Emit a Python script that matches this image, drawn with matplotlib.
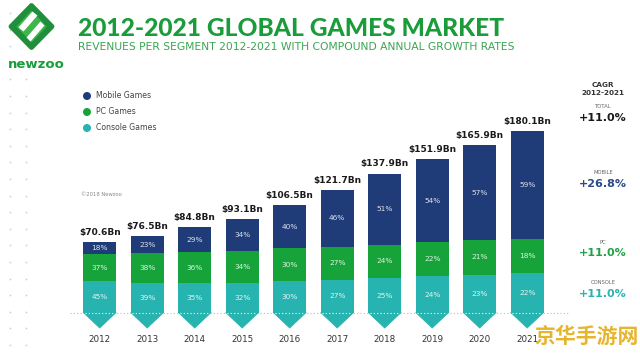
import matplotlib
matplotlib.use('Agg')
import matplotlib.pyplot as plt
from matplotlib.patches import Polygon, Circle

# ---------------- data ----------------
years = ['2012', '2013', '2014', '2015', '2016', '2017', '2018', '2019', '2020', '2021']
totals = [70.6, 76.5, 84.8, 93.1, 106.5, 121.7, 137.9, 151.9, 165.9, 180.1]
mobile_pct = [18, 23, 29, 34, 40, 46, 51, 54, 57, 59]
pc_pct = [37, 38, 36, 34, 30, 27, 24, 22, 21, 18]
console_pct = [45, 39, 35, 32, 30, 27, 25, 24, 23, 22]
segments = ['Mobile Games', 'PC Games', 'Console Games']
cagr_labels = ['TOTAL', 'MOBILE', 'PC', 'CONSOLE']
cagr_values = ['+11.0%', '+26.8%', '+11.0%', '+11.0%']

# ---------------- style ----------------
C_MOB = '#1f3b78'
C_PC = '#16a43a'
C_CON = '#27b4b0'
C_TITLE = '#1a9c3a'
W, H = 640, 354

fig = plt.figure(figsize=(6.4, 3.54), dpi=100)
fig.patch.set_facecolor('white')

# data axes (mapped so that bars land where the reference has them)
ax = fig.add_axes([0, 0, 1, 1])
ax.patch.set_alpha(0)
x0, dx = 99.7, 47.5          # pixel centre of first bar, spacing
pxu = 1.011                  # pixels per Bn
base = 313                   # pixel row of value 0
ax.set_xlim(-x0 / dx, (W - x0) / dx)
ax.set_ylim(-(H - base) / pxu, base / pxu)
ax.axis('off')

n = len(years)
xs = list(range(n))
bw = 0.69
segs = []
for t, m, p, c in zip(totals, mobile_pct, pc_pct, console_pct):
    s = m + p + c
    segs.append((t * c / s, t * p / s, t * m / s))
con_h = [s[0] for s in segs]
pc_h = [s[1] for s in segs]
mob_h = [s[2] for s in segs]
pc_b = con_h
mob_b = [a + b for a, b in zip(con_h, pc_h)]

# dotted baseline behind bars
ax.plot([(70 - x0) / dx, (568 - x0) / dx], [0, 0], ls=(0, (1, 2)), color='#b8bcbc', lw=0.8, zorder=1)

ax.bar(xs, con_h, width=bw, color=C_CON, linewidth=0, zorder=2)
ax.bar(xs, pc_h, bottom=pc_b, width=bw, color=C_PC, linewidth=0, zorder=2)
ax.bar(xs, mob_h, bottom=mob_b, width=bw, color=C_MOB, linewidth=0, zorder=2)

tip = -15 / pxu
for i in xs:
    ax.add_patch(Polygon([(i - bw / 2, 0.5), (i + bw / 2, 0.5), (i, tip)], closed=True,
                         facecolor=C_CON, edgecolor=C_CON, lw=0.6, joinstyle='round', zorder=2))
    ax.plot([i - bw / 2 + 0.03, i + bw / 2 - 0.03], [0, 0], ls=(0, (1, 2)), color='white', lw=0.8, zorder=3)

lab_kw = dict(ha='center', va='center', color='white', fontsize=5.3, alpha=0.85, zorder=4)
for i in xs:
    ax.text(i, con_h[i] / 2, f'{console_pct[i]}%', **lab_kw)
    ax.text(i, pc_b[i] + pc_h[i] / 2, f'{pc_pct[i]}%', **lab_kw)
    ax.text(i, mob_b[i] + mob_h[i] / 2, f'{mobile_pct[i]}%', **lab_kw)
    ax.text(i, totals[i] + 9.5, f'${totals[i]:.1f}Bn', ha='center', va='center',
            fontsize=6.5, fontweight='bold', color='#1a1a1a', zorder=4)
    ax.text(i, -(340 - base) / pxu, years[i], ha='center', va='center',
            fontsize=6.3, color='#333333', zorder=4)

# ---------------- decoration layer in pixel coordinates ----------------
dc = fig.add_axes([0, 0, 1, 1])
dc.patch.set_alpha(0)
dc.set_xlim(0, W)
dc.set_ylim(H, 0)
dc.axis('off')

# dotted margin
rows = [13 + 16.6 * k for k in range(21)]
for y in rows:
    if y < 350:
        dc.plot(10, y, 'o', ms=1.3, color='#d0d0d0', mec='none')
        if y > 70:
            dc.plot(26, y, 'o', ms=1.3, color='#d0d0d0', mec='none')

# logo
cx, cy = 31.5, 26.5
dc.add_patch(Polygon([(cx, cy - 21), (cx + 20.5, cy), (cx, cy + 21), (cx - 20.5, cy)], closed=True,
                     facecolor='#1f8f3c', edgecolor='#1f8f3c', lw=3.5, joinstyle='round', zorder=5))
dc.add_patch(Polygon([(cx, cy - 16), (cx + 15, cy), (cx, cy + 16), (cx - 15, cy)], closed=True,
                     facecolor='#3fb54d', edgecolor='none', zorder=5))
dc.add_patch(Polygon([(cx - 13, cy + 1), (cx + 1, cy - 15), (cx + 6, cy - 11), (cx - 8, cy + 5)],
                     closed=True, facecolor='white', edgecolor='none', zorder=6))
dc.add_patch(Polygon([(cx - 5, cy + 11), (cx + 9, cy - 5), (cx + 13, cy - 1), (cx - 1, cy + 15)],
                     closed=True, facecolor='white', edgecolor='none', zorder=6))
dc.text(36.5, 65, 'newzoo', ha='center', va='center', fontsize=9.5, fontweight='bold', color=C_TITLE)

# titles (fit to reference widths)
title = dc.text(78, 36, '2012-2021 GLOBAL GAMES MARKET', ha='left', va='baseline',
                fontsize=17, fontweight='black', family=['Lato', 'DejaVu Sans'], color=C_TITLE)
sub = dc.text(78, 50, 'REVENUES PER SEGMENT 2012-2021 WITH COMPOUND ANNUAL GROWTH RATES', ha='left',
              va='baseline', fontsize=6.5, family=['DejaVu Sans'], color='#3aa552')
fig.canvas.draw()
for t, target in ((title, 426), (sub, 434)):
    w = t.get_window_extent().width
    t.set_fontsize(t.get_fontsize() * target / w)

# legend
leg_cols = [C_MOB, C_PC, C_CON]
for k, (name, col) in enumerate(zip(segments, leg_cols)):
    y = 96 + 16 * k
    dc.add_patch(Circle((87, y), 4, facecolor=col, edgecolor='none'))
    dc.text(96, y, name, ha='left', va='center', fontsize=5.6, color='#444444')
dc.text(81, 194, '\u00a92018 Newzoo', ha='left', va='center', fontsize=3.8, color='#888888')

# CAGR panel
rx = 603
dc.text(rx, 85, 'CAGR', ha='center', va='center', fontsize=5.2, fontweight='bold', color='#333333')
dc.text(rx, 93, '2012-2021', ha='center', va='center', fontsize=5.2, fontweight='bold', color='#333333')
cagr_cols = ['#1a1a1a', '#2a4a8c', '#22a244', '#2ab3b0']
cagr_ly = [106, 172, 242, 282]
cagr_vy = [118, 184, 253, 294]
for lab, val, col, ly, vy in zip(cagr_labels, cagr_values, cagr_cols, cagr_ly, cagr_vy):
    dc.text(rx, ly, lab, ha='center', va='center', fontsize=3.8, color='#666666')
    dc.text(rx, vy, val, ha='center', va='center', fontsize=8, fontweight='bold', color=col)

# watermark
dc.text(586, 336, '京华手游网', ha='center', va='center', fontsize=15, fontweight='bold',
        family=['Noto Sans CJK SC', 'DejaVu Sans'], color='#e6b52e', zorder=10)

fig.savefig('out.png', dpi=100, facecolor='white')
